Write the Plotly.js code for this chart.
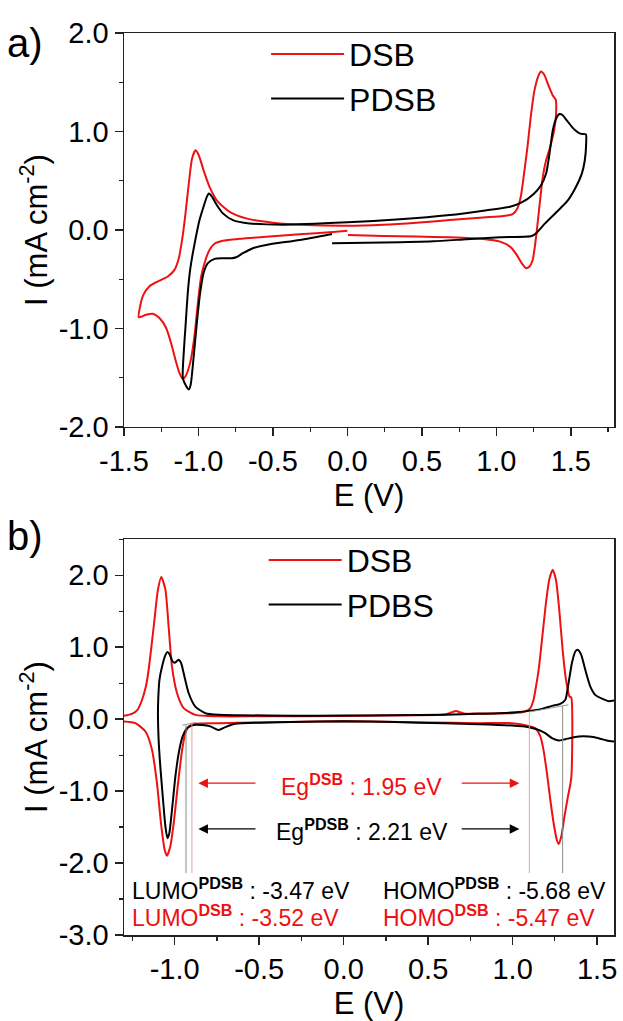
<!DOCTYPE html>
<html>
<head>
<meta charset="utf-8">
<script src="https://cdn.plot.ly/plotly-3.0.1.min.js"></script>
<style>html,body{margin:0;padding:0;background:#fff;}#chart{width:623px;height:1021px;}</style>
</head>
<body>
<div id="chart"></div>
<script>
// ---------- (a) cyclic voltammetry ----------
const cvDSB_E = [0.000,-0.096,-0.321,-0.545,-0.724,-0.836,-0.892,-0.926,-0.953,-0.982,-1.004,-1.027,-1.056,-1.087,-1.105,-1.128,-1.155,-1.184,-1.217,-1.262,-1.307,-1.352,-1.401,-1.392,-1.370,-1.330,-1.274,-1.206,-1.161,-1.132,-1.110,-1.087,-1.065,-1.043,-1.020,-0.998,-0.966,-0.926,-0.870,-0.791,-0.679,-0.500,-0.276,0.000,0.240,0.464,0.688,0.913,1.047,1.110,1.141,1.164,1.186,1.209,1.231,1.256,1.283,1.300,1.321,1.350,1.379,1.399,1.401,1.388,1.361,1.334,1.312,1.289,1.267,1.244,1.222,1.200,1.170,1.137,1.092,1.025,0.913,0.688,0.464,0.240,0.004];
const cvDSB_I = [-0.007,-0.020,-0.044,-0.068,-0.090,-0.110,-0.140,-0.202,-0.304,-0.472,-0.742,-1.079,-1.349,-1.484,-1.511,-1.450,-1.315,-1.147,-0.995,-0.894,-0.850,-0.860,-0.887,-0.776,-0.658,-0.573,-0.523,-0.472,-0.405,-0.287,-0.101,0.169,0.472,0.725,0.809,0.759,0.607,0.438,0.287,0.185,0.118,0.074,0.051,0.044,0.054,0.074,0.101,0.128,0.142,0.162,0.219,0.337,0.573,0.843,1.147,1.417,1.568,1.609,1.578,1.467,1.366,1.322,1.180,1.012,0.843,0.708,0.540,0.236,-0.067,-0.304,-0.371,-0.388,-0.337,-0.253,-0.169,-0.118,-0.091,-0.074,-0.067,-0.061,-0.051];

const cvPDSB_E = [-0.103,-0.321,-0.545,-0.635,-0.702,-0.747,-0.780,-0.836,-0.892,-0.937,-0.966,-0.989,-1.011,-1.034,-1.052,-1.065,-1.083,-1.105,-1.099,-1.087,-1.072,-1.056,-1.038,-1.016,-0.993,-0.966,-0.944,-0.930,-0.908,-0.877,-0.836,-0.769,-0.657,-0.433,0.000,0.352,0.688,0.913,1.092,1.170,1.249,1.298,1.334,1.357,1.379,1.401,1.424,1.442,1.473,1.518,1.563,1.601,1.603,1.594,1.574,1.529,1.473,1.406,1.327,1.271,1.238,1.025,0.800,0.576,0.240,-0.103];
const cvPDSB_I = [-0.040,-0.101,-0.152,-0.185,-0.236,-0.277,-0.287,-0.287,-0.293,-0.337,-0.438,-0.641,-0.944,-1.315,-1.568,-1.619,-1.585,-1.501,-1.248,-0.978,-0.641,-0.405,-0.236,-0.061,0.101,0.236,0.337,0.371,0.337,0.253,0.169,0.101,0.067,0.054,0.078,0.108,0.152,0.196,0.236,0.280,0.364,0.449,0.573,0.776,1.012,1.130,1.177,1.170,1.113,1.029,0.978,0.971,0.877,0.708,0.573,0.422,0.287,0.185,0.067,-0.027,-0.061,-0.074,-0.094,-0.115,-0.128,-0.135];

// ---------- (b) differential pulse voltammetry ----------
const dpvDSB_E = [-1.300,-1.253,-1.220,-1.193,-1.170,-1.154,-1.124,-1.099,-1.079,-1.055,-1.036,-1.016,-0.986,-0.947,-0.878,-0.740,-0.500,0.000,0.400,0.600,0.640,0.665,0.690,0.720,0.799,0.996,1.075,1.105,1.124,1.138,1.154,1.178,1.197,1.217,1.237,1.256,1.276,1.296,1.316,1.337,1.347,1.347,1.327,1.307,1.288,1.272,1.262,1.243,1.223,1.203,1.183,1.164,1.134,1.095,0.996,0.799,0.500,0.000,-0.500,-0.740,-0.878,-0.917,-0.937,-0.956,-0.980,-1.006,-1.026,-1.046,-1.059,-1.079,-1.105,-1.134,-1.173,-1.233,-1.300];
const dpvDSB_I = [0.046,0.074,0.130,0.270,0.460,0.690,1.290,1.800,1.975,1.800,1.290,0.730,0.360,0.153,0.060,0.040,0.040,0.045,0.055,0.065,0.095,0.112,0.095,0.075,0.080,0.083,0.106,0.153,0.270,0.450,0.686,1.196,1.610,1.940,2.077,1.940,1.520,0.964,0.547,0.314,0.300,-0.820,-1.080,-1.350,-1.630,-1.734,-1.680,-1.450,-1.120,-0.750,-0.430,-0.240,-0.125,-0.093,-0.056,-0.056,-0.045,-0.030,-0.045,-0.056,-0.065,-0.103,-0.195,-0.430,-0.890,-1.450,-1.770,-1.900,-1.820,-1.490,-0.890,-0.427,-0.172,-0.056,-0.033];

const dpvPDSB_E = [1.600,1.558,1.509,1.450,1.391,1.312,1.272,1.233,1.193,1.154,1.095,0.996,0.799,0.600,0.300,0.000,-0.300,-0.500,-0.641,-0.700,-0.740,-0.789,-0.838,-0.888,-0.927,-0.953,-0.976,-0.996,-1.016,-1.032,-1.043,-1.055,-1.069,-1.085,-1.095,-1.099,-1.097,-1.090,-1.075,-1.055,-1.043,-1.030,-1.012,-1.000,-0.988,-0.976,-0.962,-0.947,-0.917,-0.878,-0.818,-0.740,-0.621,-0.300,0.000,0.300,0.600,0.799,0.996,1.095,1.173,1.233,1.282,1.312,1.331,1.351,1.371,1.385,1.406,1.430,1.460,1.489,1.529,1.568,1.600];
const dpvPDSB_I = [-0.311,-0.297,-0.264,-0.242,-0.242,-0.278,-0.297,-0.264,-0.195,-0.149,-0.111,-0.089,-0.070,-0.058,-0.040,-0.030,-0.040,-0.050,-0.065,-0.110,-0.150,-0.100,-0.080,-0.080,-0.125,-0.240,-0.470,-0.800,-1.260,-1.590,-1.655,-1.490,-1.120,-0.660,-0.290,0.050,0.300,0.550,0.730,0.890,0.932,0.900,0.800,0.785,0.805,0.825,0.780,0.640,0.360,0.175,0.083,0.060,0.055,0.048,0.050,0.055,0.062,0.074,0.092,0.115,0.143,0.185,0.213,0.270,0.500,0.780,0.940,0.964,0.894,0.686,0.453,0.338,0.285,0.250,0.260];

// onset potentials (V) and the currents where the onset lines start
const onsetDSB_E = [-0.898, 1.099];
const onsetDSB_I = [-0.047, 0.092];
const onsetPDSB_E = [-0.933, 1.296];
const onsetPDSB_I = [-0.080, 0.185];

// tick labels
const xTicksA = [-1.5,-1.0,-0.5,0.0,0.5,1.0,1.5];
const xTicksB = [-1.0,-0.5,0.0,0.5,1.0,1.5];
const yTicksA = [-2,-1,0,1,2];
const yTicksB = [-3,-2,-1,0,1,2];
const fmt = v => v.toFixed(1);

const RED = '#ee1111', BLK = '#000000';
const FONT = 'Liberation Sans, Arial, sans-serif';

const traces = [
  {x: cvDSB_E, y: cvDSB_I, xaxis:'x', yaxis:'y', mode:'lines', name:'DSB', line:{color:RED,width:2,shape:'spline',smoothing:0.6}, legend:'legend'},
  {x: cvPDSB_E, y: cvPDSB_I, xaxis:'x', yaxis:'y', mode:'lines', name:'PDSB', line:{color:BLK,width:2,shape:'spline',smoothing:0.6}, legend:'legend'},
  {x: dpvDSB_E, y: dpvDSB_I, xaxis:'x2', yaxis:'y2', mode:'lines', name:'DSB', line:{color:RED,width:2,shape:'spline',smoothing:0.6}, legend:'legend2'},
  {x: dpvPDSB_E, y: dpvPDSB_I, xaxis:'x2', yaxis:'y2', mode:'lines', name:'PDBS', line:{color:BLK,width:2,shape:'spline',smoothing:0.6}, legend:'legend2'}
];

const bottomY = -2.14;
const shapes = [];
onsetDSB_E.forEach((e,i)=>shapes.push({type:'line', xref:'x2', yref:'y2', x0:e, x1:e, y0:onsetDSB_I[i], y1:bottomY, line:{color:'#e2a4a4', width:1}}));
onsetPDSB_E.forEach((e,i)=>shapes.push({type:'line', xref:'x2', yref:'y2', x0:e, x1:e, y0:onsetPDSB_I[i], y1:bottomY, line:{color:'#8c8c8c', width:1}}));
// thin tangent helper lines
shapes.push({type:'line', xref:'x2', yref:'y2', x0:1.10, x1:1.33, y0:0.10, y1:0.20, line:{color:'#9a9a9a', width:1}});
shapes.push({type:'line', xref:'x2', yref:'y2', x0:-0.955, x1:-0.875, y0:-0.085, y1:-0.045, line:{color:'#9a9a9a', width:1}});

const axisCommon = {
  showline:true, linecolor:'#222', linewidth:1.5, mirror:true,
  ticks:'outside', ticklen:8, tickwidth:1.5, tickcolor:'#222',
  showgrid:false, zeroline:false,
  tickfont:{family:FONT, size:29, color:'#000'}
};

const annotations = [
  {xref:'paper', yref:'paper', x:-0.243, y:1.016, xanchor:'left', yanchor:'top', text:'a)', showarrow:false, font:{family:FONT,size:40,color:'#000'}},
  {xref:'paper', yref:'paper', x:-0.243, y:0.4685, xanchor:'left', yanchor:'top', text:'b)', showarrow:false, font:{family:FONT,size:40,color:'#000'}},
  // Eg texts
  {xref:'x2', yref:'y2', x:0.108, y:-0.91, text:'Eg<sup><b>DSB</b></sup> : 1.95 eV', showarrow:false, font:{family:FONT,size:23,color:RED}},
  {xref:'x2', yref:'y2', x:0.108, y:-1.54, text:'Eg<sup><b>PDSB</b></sup> : 2.21 eV', showarrow:false, font:{family:FONT,size:23,color:BLK}},
  // arrows
  {xref:'x2', yref:'y2', axref:'x2', ayref:'y2', x:-0.86, y:-0.89, ax:-0.513, ay:-0.89, text:'', showarrow:true, arrowhead:2, arrowsize:1.6, arrowwidth:1.2, arrowcolor:RED},
  {xref:'x2', yref:'y2', axref:'x2', ayref:'y2', x:1.04, y:-0.89, ax:0.69, ay:-0.89, text:'', showarrow:true, arrowhead:2, arrowsize:1.6, arrowwidth:1.2, arrowcolor:RED},
  {xref:'x2', yref:'y2', axref:'x2', ayref:'y2', x:-0.86, y:-1.526, ax:-0.513, ay:-1.526, text:'', showarrow:true, arrowhead:2, arrowsize:1.6, arrowwidth:1.2, arrowcolor:BLK},
  {xref:'x2', yref:'y2', axref:'x2', ayref:'y2', x:1.04, y:-1.526, ax:0.69, ay:-1.526, text:'', showarrow:true, arrowhead:2, arrowsize:1.6, arrowwidth:1.2, arrowcolor:BLK},
  // LUMO / HOMO
  {xref:'x2', yref:'y2', x:-1.262, y:-2.365, xanchor:'left', text:'LUMO<sup><b>PDSB</b></sup> : -3.47 eV', showarrow:false, font:{family:FONT,size:23,color:BLK}},
  {xref:'x2', yref:'y2', x:-1.262, y:-2.736, xanchor:'left', text:'LUMO<sup><b>DSB</b></sup> : -3.52 eV', showarrow:false, font:{family:FONT,size:23,color:RED}},
  {xref:'x2', yref:'y2', x:0.223, y:-2.365, xanchor:'left', text:'HOMO<sup><b>PDSB</b></sup> : -5.68 eV', showarrow:false, font:{family:FONT,size:23,color:BLK}},
  {xref:'x2', yref:'y2', x:0.223, y:-2.736, xanchor:'left', text:'HOMO<sup><b>DSB</b></sup> : -5.47 eV', showarrow:false, font:{family:FONT,size:23,color:RED}}
];

const legendCommon = {
  bgcolor:'rgba(0,0,0,0)', borderwidth:0, xanchor:'left', yanchor:'top',
  font:{family:FONT, size:32, color:'#000'}, itemwidth:73, tracegroupgap:0
};

const layout = {
  width:623, height:1021,
  margin:{l:124, r:9, t:33, b:86},
  paper_bgcolor:'#fff', plot_bgcolor:'#fff',
  font:{family:FONT, color:'#000'},
  xaxis: Object.assign({}, axisCommon, {
    domain:[0,1], anchor:'y', range:[-1.5,1.79],
    tickvals:xTicksA, ticktext:xTicksA.map(fmt),
    minor:{dtick:0.25, tick0:0, ticks:'outside', ticklen:4, tickwidth:1.2, tickcolor:'#222'},
    title:{text:'E (V)', font:{family:FONT,size:31}, standoff:8}
  }),
  yaxis: Object.assign({}, axisCommon, {
    domain:[0.5632,1], anchor:'x', range:[-2,2],
    tickvals:yTicksA, ticktext:yTicksA.map(fmt),
    minor:{dtick:0.5, tick0:0, ticks:'outside', ticklen:4, tickwidth:1.2, tickcolor:'#222'},
    title:{text:'I (mA cm<sup>-2</sup>)', font:{family:FONT,size:31}, standoff:2}
  }),
  xaxis2: Object.assign({}, axisCommon, {
    domain:[0,1], anchor:'y2', range:[-1.3,1.6],
    tickvals:xTicksB, ticktext:xTicksB.map(fmt),
    minor:{dtick:0.25, tick0:0, ticks:'outside', ticklen:4, tickwidth:1.2, tickcolor:'#222'},
    title:{text:'E (V)', font:{family:FONT,size:31}, standoff:10}
  }),
  yaxis2: Object.assign({}, axisCommon, {
    domain:[0,0.4387], anchor:'x2', range:[-3,2.5],
    tickvals:yTicksB, ticktext:yTicksB.map(fmt),
    minor:{dtick:0.5, tick0:0, ticks:'outside', ticklen:4, tickwidth:1.2, tickcolor:'#222'},
    title:{text:'I (mA cm<sup>-2</sup>)', font:{family:FONT,size:31}, standoff:2}
  }),
  legend: Object.assign({}, legendCommon, {x:0.29, y:1.007}),
  legend2: Object.assign({}, legendCommon, {x:0.285, y:0.446}),
  shapes: shapes,
  annotations: annotations,
  showlegend:true
};

Plotly.newPlot('chart', traces, layout, {displayModeBar:false, staticPlot:true});
</script>
</body>
</html>
